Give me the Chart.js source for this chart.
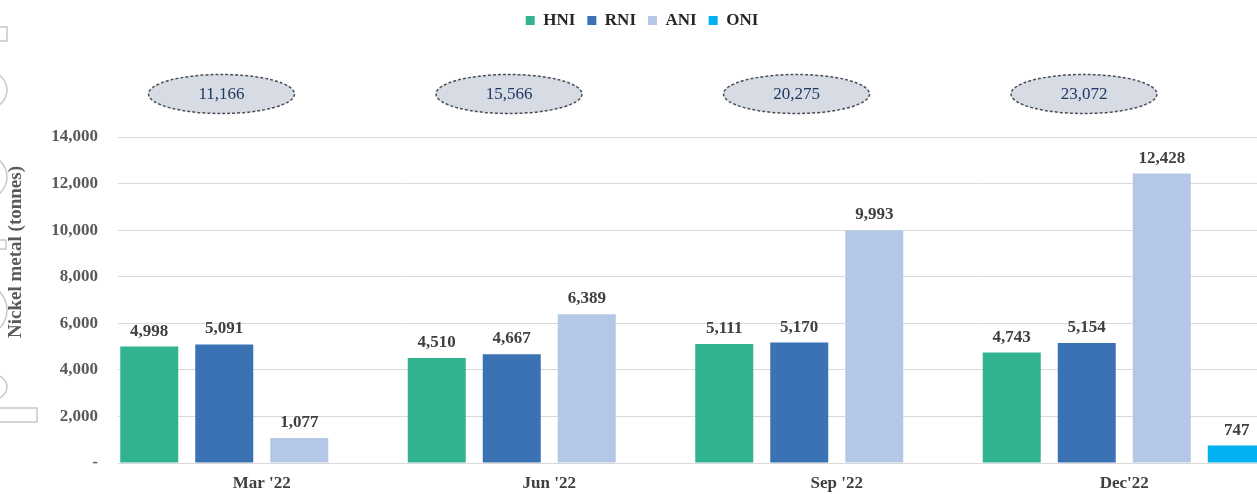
<!DOCTYPE html>
<html>
<head>
<meta charset="utf-8">
<script src="https://cdn.jsdelivr.net/npm/chart.js@4.4.1/dist/chart.umd.min.js"></script>
<style>
  html, body { margin: 0; padding: 0; background: #ffffff; overflow: hidden; }
  #wrap { width: 1257px; height: 494px; overflow: hidden; position: relative; }
  #c { position: absolute; left: 0; top: 0; }
</style>
</head>
<body>
<div id="wrap"><canvas id="c" width="1290" height="494"></canvas></div>
<script>
// ---- data ----
const categories = ["Mar '22", "Jun '22", "Sep '22", "Dec'22"];
const seriesNames = ["HNI", "RNI", "ANI", "ONI"];
const hniValues = [4998, 4510, 5111, 4743];
const rniValues = [5091, 4667, 5170, 5154];
const aniValues = [1077, 6389, 9993, 12428];
const oniValues = [null, null, null, 747];
const totals = [11166, 15566, 20275, 23072];
const yTicks = [0, 2000, 4000, 6000, 8000, 10000, 12000, 14000];
const yAxisTitle = "Nickel metal (tonnes)";

const colors = ["#31B38F", "#3B72B3", "#B4C7E7", "#00B0F0"];
const SERIF = "'Liberation Serif', 'Times New Roman', serif";
const fmt = v => v === 0 ? "-" : v.toLocaleString("en-US");

const ellipsePlugin = {
  id: "ellipses",
  afterDraw(chart) {
    const ctx = chart.ctx, x = chart.scales.x, area = chart.chartArea;
    const catW = (area.right - area.left) / categories.length;
    const cy = area.top - 43;
    ctx.save();
    totals.forEach((t, i) => {
      const cx = x.getPixelForValue(i) - 0.14 * catW;
      ctx.beginPath();
      ctx.ellipse(cx, cy, 73, 19.5, 0, 0, Math.PI * 2);
      ctx.fillStyle = "#D7DCE4";
      ctx.fill();
      ctx.setLineDash([3, 2]);
      ctx.lineWidth = 1.5;
      ctx.strokeStyle = "#4A4F57";
      ctx.stroke();
      ctx.setLineDash([]);
      ctx.fillStyle = "#1F3864";
      ctx.font = "17px " + SERIF;
      ctx.textAlign = "center";
      ctx.textBaseline = "middle";
      ctx.fillText(fmt(t), cx, cy + 1);
    });
    ctx.restore();
  }
};

const dataLabelPlugin = {
  id: "dataLabels",
  afterDatasetsDraw(chart) {
    const ctx = chart.ctx;
    ctx.save();
    ctx.font = "bold 17px " + SERIF;
    ctx.fillStyle = "#404040";
    ctx.textAlign = "center";
    ctx.textBaseline = "alphabetic";
    chart.data.datasets.forEach((ds, di) => {
      const meta = chart.getDatasetMeta(di);
      meta.data.forEach((el, i) => {
        const v = ds.data[i];
        if (v === null || v === undefined) return;
        ctx.fillText(fmt(v), el.x, el.y - 11);
      });
    });
    ctx.restore();
  }
};

const axisTitlePlugin = {
  id: "axisTitle",
  afterDraw(chart) {
    const ctx = chart.ctx, area = chart.chartArea;
    ctx.save();
    ctx.translate(16, area.top + 115);
    ctx.rotate(-Math.PI / 2);
    ctx.font = "bold 19px " + SERIF;
    ctx.fillStyle = "#595959";
    ctx.textAlign = "center";
    ctx.textBaseline = "middle";
    ctx.fillText(yAxisTitle, 0, 0);
    ctx.restore();
  }
};

const edgePlugin = {
  id: "edgeMarks",
  beforeDraw(chart) {
    const ctx = chart.ctx;
    ctx.save();
    ctx.strokeStyle = "#C8C8C8";
    ctx.lineWidth = 1.5;
    ctx.strokeRect(-2, 27, 9, 14);
    ctx.strokeRect(-2, 240, 8, 9);
    ctx.strokeRect(-2, 408, 39, 14);
    [[90, 27], [177, 30], [310, 33], [387, 20]].forEach(([cy, h]) => {
      const r = 45;
      const cx = 7 - r;
      ctx.beginPath();
      ctx.ellipse(cx, cy, r, h, 0, -Math.PI / 2, Math.PI / 2);
      ctx.stroke();
    });
    ctx.restore();
  }
};

const ctx = document.getElementById("c").getContext("2d");
new Chart(ctx, {
  type: "bar",
  data: {
    labels: categories,
    datasets: [
      { label: seriesNames[0], data: hniValues, backgroundColor: colors[0] },
      { label: seriesNames[1], data: rniValues, backgroundColor: colors[1] },
      { label: seriesNames[2], data: aniValues, backgroundColor: colors[2] },
      { label: seriesNames[3], data: oniValues, backgroundColor: colors[3] }
    ]
  },
  options: {
    responsive: false,
    animation: false,
    devicePixelRatio: 1,
    layout: { padding: { left: 16, right: 22, top: 0, bottom: 0 } },
    datasets: { bar: { categoryPercentage: 1.0435, barPercentage: 0.7733 } },
    plugins: {
      legend: {
        position: "top",
        labels: {
          boxWidth: 9, boxHeight: 9, padding: 12,
          color: "#262626",
          font: { family: SERIF, size: 17, weight: "bold" }
        }
      },
      title: {
        display: true, text: "", weight: 500, position: "top",
        font: { size: 10, lineHeight: 1 },
        padding: { top: 0, bottom: 88 }
      },
      tooltip: { enabled: false }
    },
    scales: {
      x: {
        afterFit: s => { s.height = 31; },
        grid: { display: false, drawTicks: false },
        border: { display: false },
        ticks: { color: "#404040", padding: 10, font: { family: SERIF, size: 17, weight: "bold" } }
      },
      y: {
        min: 0, max: 14000,
        afterBuildTicks: s => { s.ticks = yTicks.map(v => ({ value: v })); },
        afterFit: s => { s.width = 102; },
        grid: { color: "#D9D9D9", lineWidth: 1, drawTicks: false },
        border: { display: false },
        ticks: {
          color: "#595959", padding: 20,
          font: { family: SERIF, size: 17, weight: "bold" },
          callback: v => fmt(v)
        }
      }
    }
  },
  plugins: [edgePlugin, ellipsePlugin, dataLabelPlugin, axisTitlePlugin]
});
</script>
</body>
</html>
